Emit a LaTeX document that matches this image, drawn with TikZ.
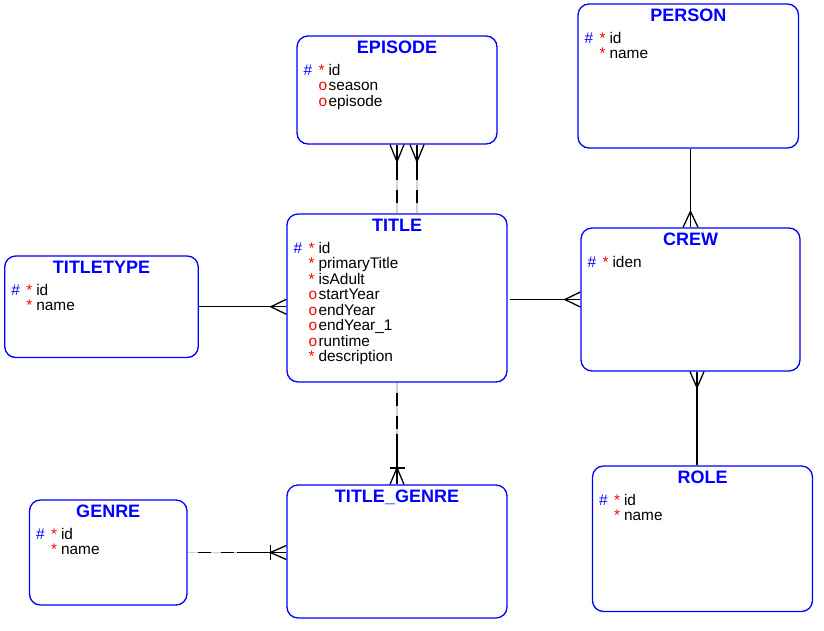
\documentclass[tikz,border=0pt]{standalone}
\usepackage{fontspec}
\setmainfont{Liberation Sans}
\usetikzlibrary{calc}
\newcommand\mkk{\makebox[15pt][l]{\textcolor{blue}{\#}}\makebox[10pt][l]{\textcolor{red}{*}}}
\newcommand\mks{\hspace*{15pt}\makebox[10pt][l]{\textcolor{red}{*}}}
\newcommand\mko{\hspace*{15pt}\makebox[10pt][l]{\textcolor{red}{o}}}
\newcommand\ent[6]{%
  \node[entity, minimum width=#4pt, minimum height=#5pt] (#1) at (#2,#3) {};
  \node[etitle] (#1-t) at ([yshift=-18.5pt]#1.north) {#6};
}
\newcommand\attrs[2]{%
  \foreach \k/\t [count=\i from 0, evaluate=\i as \yy using -40-15.5*\i] in {#2}
    \node[attr] (#1-a\i) at ([shift={(7pt,\yy pt)}]#1.north west) {\csname mk\k\endcsname\t};
}
\tikzset{
  entity/.style={draw=blue, line width=1.3pt, rounded corners=11pt, fill=white, inner sep=0pt},
  etitle/.style={anchor=base, inner sep=0pt, text=blue, font=\fontsize{18}{18}\selectfont\bfseries},
  attr/.style={anchor=base west, inner sep=0pt, font=\fontsize{15.4}{15.5}\selectfont},
  rel/.style={line width=1.3pt, black},
  optgray/.style={line width=1.3pt, black!18},
  optdash/.style={line width=1.3pt, black, dash pattern=on 13pt off 10pt, dash phase=13pt},
}
\begin{document}
\begin{tikzpicture}[x=1pt,y=-1pt]
\fill[white] (0,0) rectangle (824,630);
\useasboundingbox (0,0) rectangle (824,630);

\ent{ep}{397}{90}{200}{108}{EPISODE}
\attrs{ep}{k/id, o/season, o/episode}
\ent{person}{688.25}{76}{220.5}{144}{PERSON}
\attrs{person}{k/id, s/name}
\ent{title}{397}{298}{220}{168}{TITLE}
\attrs{title}{k/id, s/primaryTitle, s/isAdult, o/startYear, o/endYear, o/endYear\_1, o/runtime, s/description}
\ent{tt}{101.5}{306.75}{193.5}{101.5}{TITLETYPE}
\attrs{tt}{k/id, s/name}
\ent{crew}{690.5}{299.5}{219}{143}{CREW}
\attrs{crew}{k/iden}
\ent{genre}{108.25}{552.5}{157.5}{105}{GENRE}
\attrs{genre}{k/id, s/name}
\ent{tg}{397}{551.5}{220}{133}{TITLE\_GENRE}
\ent{role}{702.5}{538.75}{220}{145.5}{ROLE}
\attrs{role}{k/id, s/name}

% EPISODE -- TITLE (two relations)
\foreach \dx/\n in {0/a,20/b}{
  \coordinate (e\n) at ([xshift=\dx pt]ep.south);
  \coordinate (t\n) at (e\n |- title.north);
  \coordinate (m\n) at ($(e\n)!0.5!(t\n)$);
  \draw[rel] (e\n) -- (m\n);
  \draw[optgray] (t\n) -- (m\n);
  \draw[optdash] (t\n) -- (m\n);
  \draw[rel] ([xshift=-7pt]e\n) -- ([yshift=-17pt]e\n) -- ([xshift=7pt]e\n);
}

% PERSON -- CREW
\coordinate (pc) at (crew.north);
\draw[rel] (pc) -- (pc |- person.south);
\draw[rel] ([xshift=-7.5pt]pc) -- ([yshift=16pt]pc) -- ([xshift=7.5pt]pc);

% TITLETYPE -- TITLE
\coordinate (tl) at (tt.east -| title.west);
\draw[rel] (tt.east) -- (tl);
\draw[rel] ([yshift=7.5pt]tl) -- ([xshift=-15.5pt]tl) -- ([yshift=-7.5pt]tl);

% TITLE -- CREW
\coordinate (cw) at (crew.west);
\draw[rel] ([xshift=2pt]cw -| title.east) -- (cw);
\draw[rel] ([yshift=7.5pt]cw) -- ([xshift=-15.5pt]cw) -- ([yshift=-7.5pt]cw);

% CREW -- ROLE
\coordinate (rn) at ([xshift=-5.5pt]role.north);
\coordinate (cs) at (rn |- crew.south);
\draw[rel] (rn) -- (cs);
\draw[rel] ([xshift=-7pt]cs) -- ([yshift=-16pt]cs) -- ([xshift=7pt]cs);

% TITLE -- TITLE_GENRE
\coordinate (ts) at (title.south);
\coordinate (gn) at (ts |- tg.north);
\coordinate (mg) at ($(ts)!0.5!(gn)$);
\draw[optgray] (ts) -- (mg);
\draw[optdash] (ts) -- (mg);
\draw[rel] (mg) -- (gn);
\draw[rel] ([xshift=-7pt]gn) -- ([yshift=16.5pt]gn) -- ([xshift=7pt]gn);
\draw[rel] ([xshift=-7.5pt,yshift=16.5pt]gn) -- ([xshift=7.5pt,yshift=16.5pt]gn);

% GENRE -- TITLE_GENRE
\coordinate (ge) at (genre.east);
\coordinate (gw) at (ge -| tg.west);
\coordinate (mw) at ($(ge)!0.5!(gw)$);
\draw[optgray] (ge) -- (mw);
\draw[optdash] (ge) -- (mw);
\draw[rel] (mw) -- (gw);
\draw[rel] ([yshift=7pt]gw) -- ([xshift=-16pt]gw) -- ([yshift=-7pt]gw);
\draw[rel] ([xshift=-16pt,yshift=7.5pt]gw) -- ([xshift=-16pt,yshift=-7.5pt]gw);
\end{tikzpicture}
\end{document}
